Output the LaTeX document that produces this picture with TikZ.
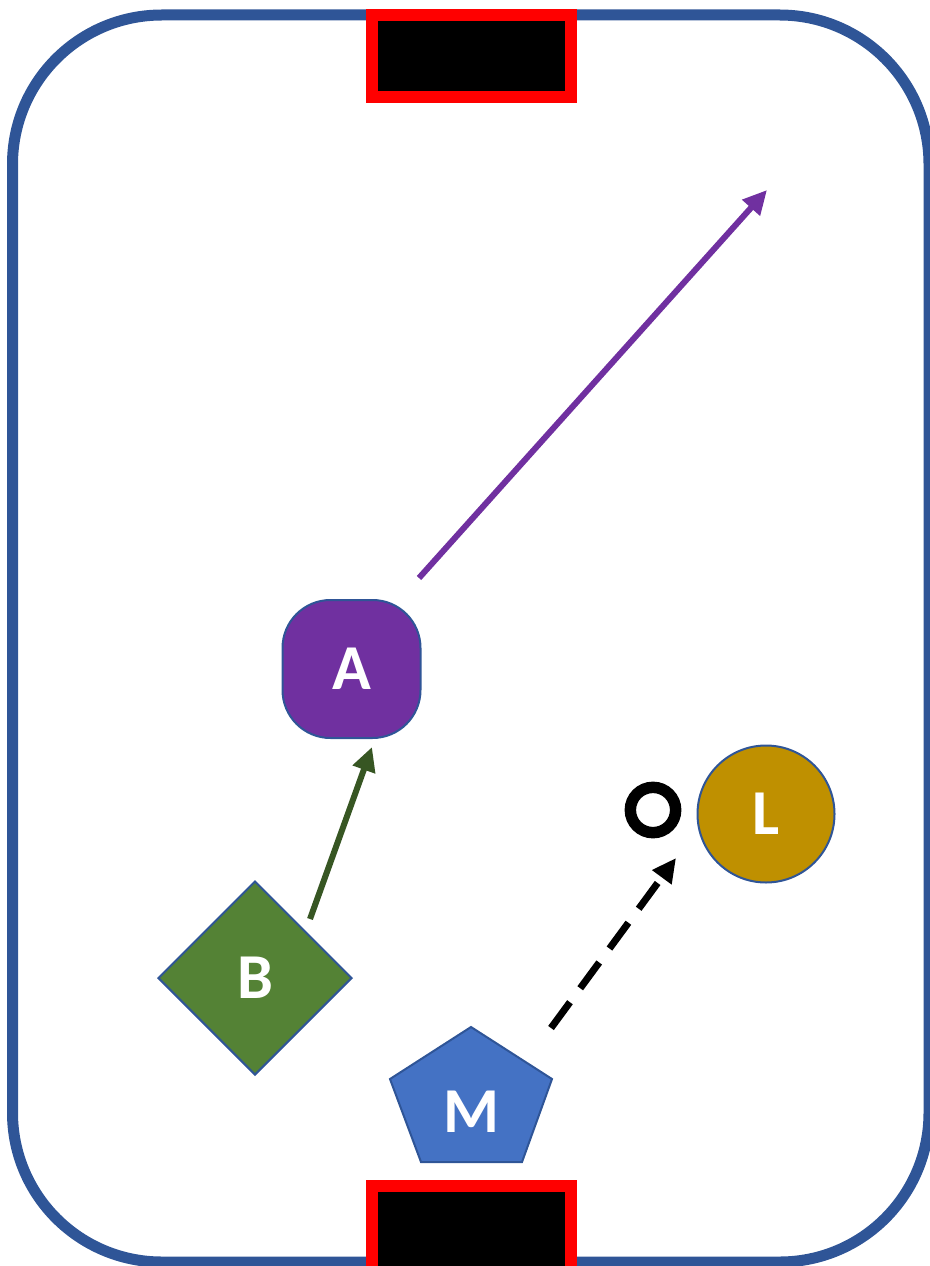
\documentclass[tikz,border=0pt]{standalone}
\usepackage{fontspec}
\newfontfamily\tokfont{Carlito}
\usetikzlibrary{shapes.geometric,arrows.meta}
\definecolor{rinkblue}{HTML}{2F5597}
\definecolor{tokpurple}{HTML}{7030A0}
\definecolor{tokgreen}{HTML}{548235}
\definecolor{arrowgreen}{HTML}{375623}
\definecolor{tokgold}{HTML}{BF9000}
\definecolor{tokblue}{HTML}{4472C4}
\tikzset{
  tok/.style={draw=rinkblue, line width=1.5pt, text=white, inner sep=0pt,
    font=\tokfont\bfseries\fontsize{48}{48}\selectfont},
  goal/.style={draw=red, fill=black, line width=9pt},
  move/.style={line width=4.5pt, -{Triangle[length=18pt,width=17pt]}},
}
\begin{document}
\begin{tikzpicture}[x=0.75pt,y=-0.75pt]
  \useasboundingbox (0,0) rectangle (929,1266);
  % rink and goals
  \draw[rinkblue, line width=8.25pt, rounded corners=112pt] (12.5,15) rectangle (929,1262);
  \draw[goal] (371.5,15.5) rectangle (571,97);
  \draw[goal] (371.5,1186) rectangle (571,1272);
  % players
  \node (A) [tok, fill=tokpurple, rectangle, rounded corners=36pt, minimum size=103.5pt] at (351.5,669) {A};
  \node (B) [tok, fill=tokgreen, diamond, aspect=1, minimum size=145.5pt] at (255,978) {B};
  \node (L) [tok, fill=tokgold, circle, minimum size=102.75pt] at (766,814) {L};
  \draw[rinkblue, line width=1.5pt, fill=tokblue] (471,1027) -- (552,1079) -- (522,1162) -- (421,1162) -- (390,1079) -- cycle;
  \node (M) [tok, draw=none] at (471,1112) {M};
  \node (puck) [circle, draw=black, line width=8.6pt, minimum size=34pt, inner sep=0pt] at (653,810) {};
  % moves
  \coordinate (a0) at (419,578);
  \coordinate (a1) at (767,190);
  \coordinate (b0) at (310,919);
  \coordinate (b1) at (372,747);
  \coordinate (m0) at (551,1028);
  \coordinate (m1) at (676,858);
  \draw[move, tokpurple] (a0) -- (a1);
  \draw[move, arrowgreen] (b0) -- (b1);
  \draw[move, black, line width=5.25pt, dash pattern=on 24pt off 13pt] (m0) -- (m1);
\end{tikzpicture}
\end{document}
